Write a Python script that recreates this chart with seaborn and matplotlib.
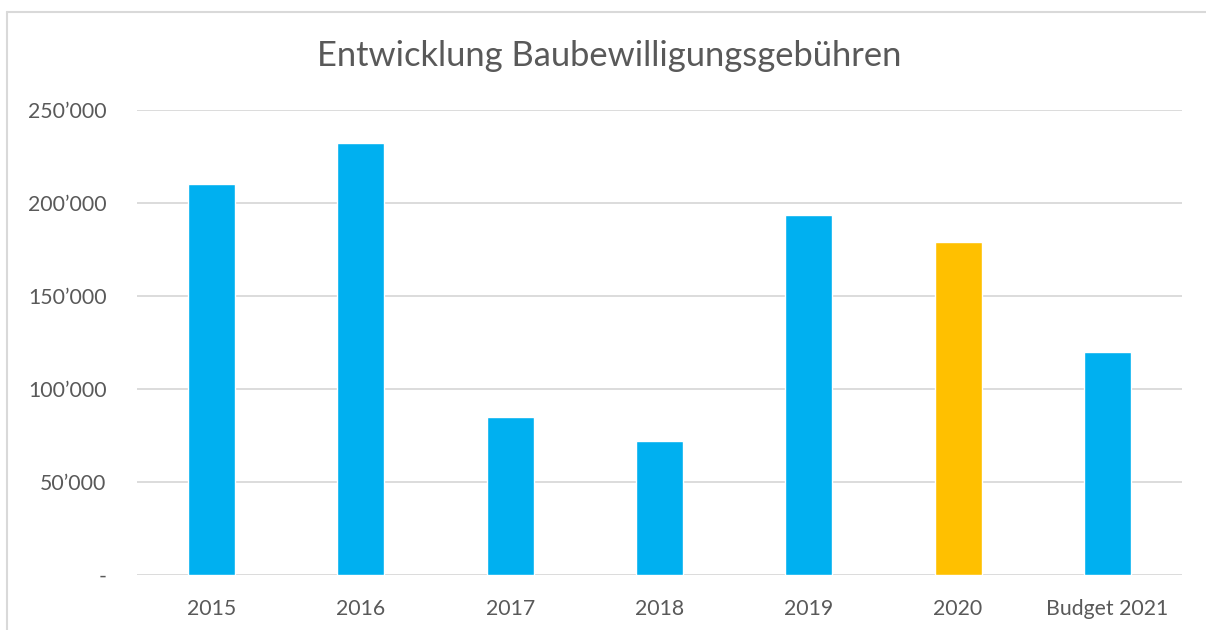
import matplotlib
matplotlib.use("Agg")
import matplotlib.pyplot as plt
import seaborn as sns
from matplotlib.ticker import FuncFormatter, MultipleLocator
from matplotlib.lines import Line2D

categories = ["2015", "2016", "2017", "2018", "2019", "2020", "Budget 2021"]
values = [210300, 232500, 85000, 72100, 193300, 179300, 120100]
bar_colors = ["#00B0F0", "#00B0F0", "#00B0F0", "#00B0F0", "#00B0F0", "#FFC000", "#00B0F0"]
title = "Entwicklung Baubewilligungsgebühren"

sns.set_style("white")
plt.rcParams["font.family"] = ["Lato", "DejaVu Sans"]

W, H = 1206, 630
fig = plt.figure(figsize=(W / 100, H / 100), dpi=100)
ax = fig.add_axes([137 / W, 1 - 575 / H, (1182 - 137) / W, (575 - 110) / H])

sns.barplot(x=categories, y=values, hue=categories, palette=bar_colors,
            legend=False, width=0.315, saturation=1, ax=ax, zorder=3)

ax.set_ylim(0, 250000)
ax.set_xlim(-0.5, len(categories) - 0.5)
ax.yaxis.set_major_locator(MultipleLocator(50000))

def fmt(v, pos):
    if abs(v) < 1:
        return "-"
    return f"{int(round(v)):,}".replace(",", "\u2019")

ax.yaxis.set_major_formatter(FuncFormatter(fmt))
ax.grid(axis="y", color="#D9D9D9", linewidth=1.3, zorder=0)
ax.set_axisbelow(True)
for s in ax.spines.values():
    s.set_visible(False)
ax.tick_params(axis="both", length=0, labelsize=15.3, colors="#595959")
ax.tick_params(axis="y", pad=22)
ax.tick_params(axis="x", pad=17)
ax.set_xlabel("")
ax.set_ylabel("")

fig.text(609 / W, 1 - 56 / H, title, ha="center", va="center",
         fontsize=24.8, color="#595959")

# outer chart frame (left and top edges visible)
fig.add_artist(Line2D([7 / W, 7 / W], [0, 1 - 12 / H], color="#D9D9D9", linewidth=1.5,
                      transform=fig.transFigure))
fig.add_artist(Line2D([7 / W, 1], [1 - 12 / H, 1 - 12 / H], color="#D9D9D9", linewidth=1.5,
                      transform=fig.transFigure))

fig.savefig("out.png", dpi=100, facecolor="white")
